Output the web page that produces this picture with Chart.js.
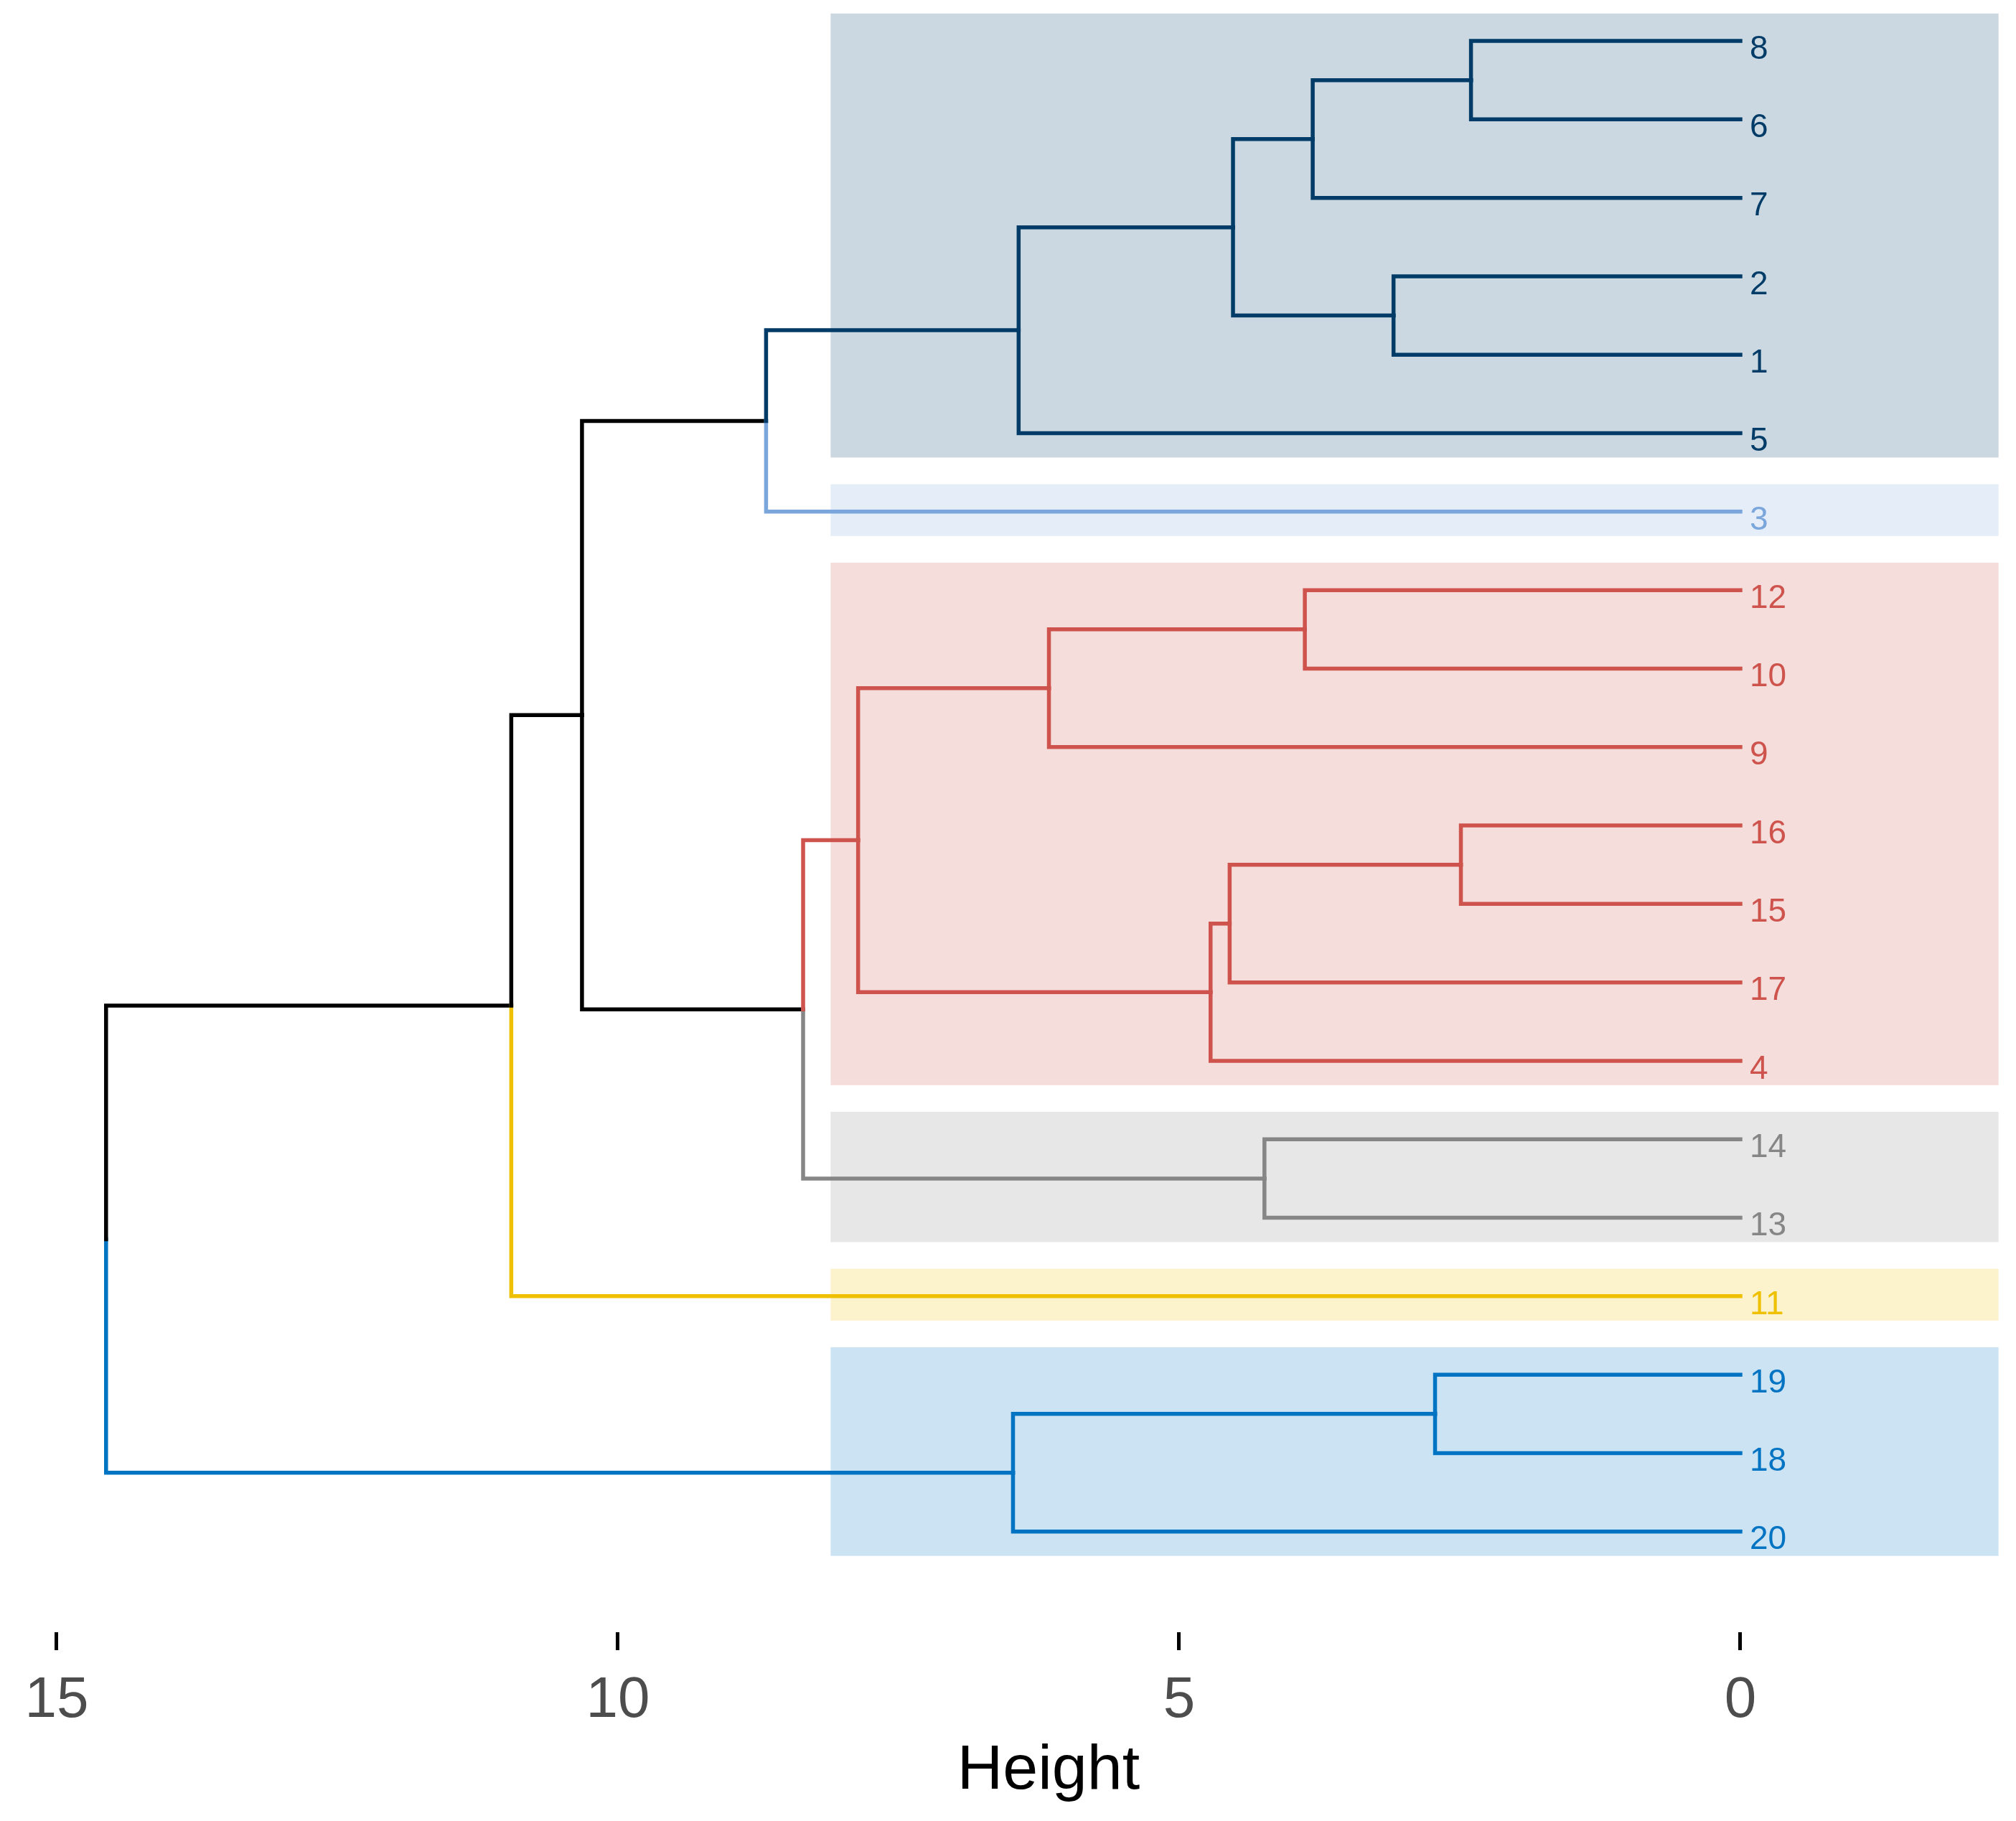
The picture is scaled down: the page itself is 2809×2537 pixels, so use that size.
<!DOCTYPE html>
<html>
<head>
<meta charset="utf-8">
<script src="https://cdn.jsdelivr.net/npm/chart.js@4.4.1/dist/chart.umd.min.js"></script>
<style>
  html, body { margin: 0; padding: 0; background: #fff; overflow: hidden; }
  #wrap { width: 2809px; height: 2537px; position: relative; }
</style>
</head>
<body>
<div id="wrap"><canvas id="dend"></canvas></div>
<script>
// hclust-style merge table: negative = leaf label, positive = earlier merge (1-based)
const mergeLeft   = [-8, 1, -2, 2, 4, 5, -12, 7, -16, 9, 10, 8, -14, 12, 6, 15, -19, 17, 16];
const mergeRight  = [-6, -7, -1, 3, -5, -3, -10, -9, -15, -17, -4, 11, -13, 13, 14, -11, -18, -20, 18];
const mergeHeight = [2.40, 3.81, 3.09, 4.52, 6.43, 8.68, 3.88, 6.16, 2.49, 4.55, 4.72, 7.86, 4.24, 8.35, 10.32, 10.95, 2.72, 6.48, 14.56];

const clusterCount = 6;
// colours of the clusters, top to bottom
const clusterColors = ['#003C67', '#7AA6DC', '#CD534C', '#868686', '#EFC000', '#0073C2'];
const axisTicks = [0, 5, 10, 15];
const axisTitle = 'Height';

const rectLower = -2.3;     // right end of the cluster boxes
const FONT = "'Liberation Sans', Arial, sans-serif";

// ---- tree layout -----------------------------------------------
const rootNode = mergeHeight.length;
const leafOrder = [];
function collect(node) {
    if (node < 0) { leafOrder.push(-node); return; }
    collect(mergeLeft[node - 1]);
    collect(mergeRight[node - 1]);
}
collect(rootNode);

const leafPos = {};
leafOrder.forEach((l, i) => { leafPos[l] = i + 1; });

function nodeH(node) { return node < 0 ? 0 : mergeHeight[node - 1]; }
function nodeY(node) {
    if (node < 0) return leafPos[-node];
    return (nodeY(mergeLeft[node - 1]) + nodeY(mergeRight[node - 1])) / 2;
}
function leavesOf(node, out) {
    if (node < 0) { out.push(-node); return out; }
    leavesOf(mergeLeft[node - 1], out);
    leavesOf(mergeRight[node - 1], out);
    return out;
}

// cut between the k-th highest merges
const sortedH = mergeHeight.slice().sort((a, b) => b - a);
const cutHeight = (sortedH[clusterCount - 2] + sortedH[clusterCount - 1]) / 2;

const clusterRoots = [];
function findClusters(node) {
    if (nodeH(node) < cutHeight) { clusterRoots.push(node); return; }
    findClusters(mergeLeft[node - 1]);
    findClusters(mergeRight[node - 1]);
}
findClusters(rootNode);

const leafCluster = {};
const clusters = clusterRoots.map((node, ci) => {
    const leaves = leavesOf(node, []);
    leaves.forEach(l => { leafCluster[l] = ci; });
    const pos = leaves.map(l => leafPos[l]);
    return { first: Math.min(...pos), last: Math.max(...pos), color: clusterColors[ci] };
});

function nodeColor(node) {
    if (nodeH(node) >= cutHeight) return '#000000';
    return clusterColors[leafCluster[leavesOf(node, [])[0]]];
}

// one elbow (vertical + horizontal) per child of every merge
const datasets = [];
for (let m = 1; m <= rootNode; m++) {
    const h = nodeH(m), y = nodeY(m);
    [mergeLeft[m - 1], mergeRight[m - 1]].forEach(c => {
        datasets.push({
            data: [{ x: h, y: y }, { x: h, y: nodeY(c) }, { x: nodeH(c), y: nodeY(c) }],
            showLine: true,
            borderColor: nodeColor(c),
            borderWidth: 5.5,
            borderCapStyle: 'square',
            borderJoinStyle: 'miter',
            pointRadius: 0,
            tension: 0,
            fill: false
        });
    });
}

function hexAlpha(hex, a) {
    const n = parseInt(hex.slice(1), 16);
    return `rgba(${(n >> 16) & 255}, ${(n >> 8) & 255}, ${n & 255}, ${a})`;
}

// ---- plugins ---------------------------------------------------
const boxesPlugin = {
    id: 'clusterBoxes',
    beforeDatasetsDraw(chart) {
        const { ctx, scales: { x, y } } = chart;
        ctx.save();
        clusters.forEach(c => {
            const x0 = x.getPixelForValue(cutHeight), x1 = x.getPixelForValue(rectLower);
            const y0 = y.getPixelForValue(c.first - 0.35), y1 = y.getPixelForValue(c.last + 0.31);
            ctx.fillStyle = hexAlpha(c.color, 0.2);
            ctx.fillRect(x0, y0, x1 - x0, y1 - y0);
        });
        ctx.restore();
    }
};

const labelsPlugin = {
    id: 'leafLabels',
    afterDatasetsDraw(chart) {
        const { ctx, chartArea, scales: { x, y } } = chart;
        ctx.save();
        ctx.font = `46px ${FONT}`;
        ctx.textAlign = 'left';
        ctx.textBaseline = 'middle';
        leafOrder.forEach(l => {
            ctx.fillStyle = clusterColors[leafCluster[l]];
            ctx.fillText(String(l), x.getPixelForValue(0) + 13, y.getPixelForValue(leafPos[l]) + 12);
        });
        // axis title
        ctx.font = `88px ${FONT}`;
        ctx.textAlign = 'center';
        ctx.textBaseline = 'alphabetic';
        ctx.fillStyle = '#000000';
        ctx.fillText(axisTitle, (chartArea.left + chartArea.right) / 2 + 51, chartArea.bottom + 218);
        ctx.restore();
    }
};

new Chart(document.getElementById('dend').getContext('2d'), {
    type: 'scatter',
    data: { datasets },
    options: {
        responsive: true,
        maintainAspectRatio: false,
        devicePixelRatio: 1,
        animation: false,
        events: [],
        layout: { padding: { left: 20, right: 9, top: 0, bottom: 0 } },
        plugins: { legend: { display: false }, tooltip: { enabled: false } },
        scales: {
            x: {
                type: 'linear',
                reverse: true,
                min: -2.398,
                max: 15.377,
                afterBuildTicks: s => { s.ticks = axisTicks.map(v => ({ value: v })); },
                afterFit: s => { s.height = 263; },
                border: { display: false },
                grid: { display: true, drawOnChartArea: false, drawTicks: true, tickLength: 25, tickWidth: 5, tickColor: '#000000' },
                ticks: { padding: 23, color: '#4D4D4D', font: { family: FONT, size: 80 } }
            },
            y: {
                type: 'linear',
                display: false,
                reverse: true,
                min: 0.478,
                max: 21.283
            }
        }
    },
    plugins: [boxesPlugin, labelsPlugin]
});
</script>
</body>
</html>
